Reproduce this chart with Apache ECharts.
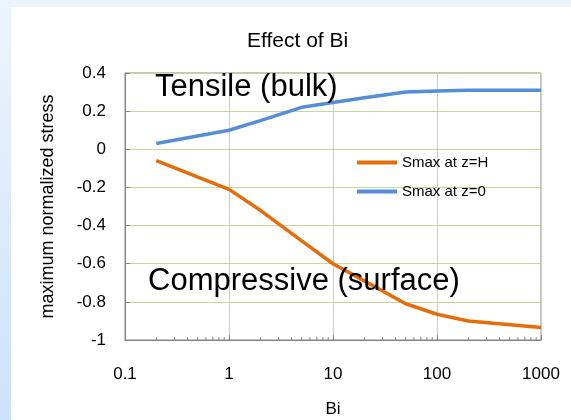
<!DOCTYPE html>
<html>
<head>
<meta charset="utf-8">
<script src="https://cdn.jsdelivr.net/npm/echarts@6/dist/echarts.min.js"></script>
<style>
  html, body { margin: 0; padding: 0; }
  body { width: 571px; height: 420px; background: linear-gradient(to bottom, #ecf4fd, #cde2fb); position: relative; overflow: hidden; }
  #panel { position: absolute; left: 11px; top: 7px; right: 0; bottom: 0; background: #fff; }
  #chart { position: absolute; left: 0; top: 0; width: 571px; height: 420px; }
</style>
</head>
<body>
<div id="panel"></div>
<div id="chart"></div>
<script>
// ---- data ----
const titleText = 'Effect of Bi';
const xAxisName = 'Bi';
const yAxisName = 'maximum normalized stress';
const biValues = [0.2, 1, 2, 5, 10, 20, 50, 100, 200, 1000];
const seriesNames = ['Smax at z=H', 'Smax at z=0'];
const smaxSurface = [-0.06, -0.21, -0.32, -0.48, -0.60, -0.69, -0.81, -0.865, -0.90, -0.935];
const smaxBulk = [0.03, 0.10, 0.15, 0.22, 0.245, 0.27, 0.30, 0.305, 0.31, 0.31];
const minorTickValues = [0.2,0.3,0.4,0.5,0.6,0.7,0.8,0.9, 2,3,4,5,6,7,8,9, 20,30,40,50,60,70,80,90, 200,300,400,500,600,700,800,900];
const annotations = ['Tensile (bulk)', 'Compressive (surface)'];

const FONT = '"Liberation Sans", Arial, sans-serif';
const chart = echarts.init(document.getElementById('chart'), null, { renderer: 'canvas' });

const pair = (xs, ys) => xs.map((x, i) => [x, ys[i]]);

chart.setOption({
  backgroundColor: 'transparent',
  animation: false,
  title: {
    text: titleText, left: 242, top: 26,
    textStyle: { fontFamily: FONT, fontSize: 21, fontWeight: 'normal', color: '#000' }
  },
  grid: {
    left: 125, right: 30, top: 73, bottom: 80, containLabel: false, outerBoundsMode: 'none',
    show: true, borderColor: '#868686', borderWidth: 1, backgroundColor: '#fff'
  },
  legend: {
    orient: 'vertical', left: 352, top: 150, itemWidth: 40, itemHeight: 4, itemGap: 14,
    icon: 'rect',
    data: seriesNames,
    textStyle: { fontFamily: FONT, fontSize: 15, color: '#000' }
  },
  xAxis: {
    type: 'log', logBase: 10, min: 0.1, max: 1000,
    name: xAxisName, nameLocation: 'middle', nameGap: 61,
    nameTextStyle: { fontFamily: FONT, fontSize: 17, color: '#000' },
    axisLine: { onZero: false, lineStyle: { color: '#868686', width: 1 } },
    axisTick: { show: true, inside: true, length: 5, lineStyle: { color: '#868686' } },
    axisLabel: { fontFamily: FONT, fontSize: 17, color: '#000', margin: 26, formatter: v => String(v) },
    splitLine: { show: true, lineStyle: { color: '#c4d89e', width: 1 } },
    minorTick: { show: false }, minorSplitLine: { show: false }
  },
  yAxis: {
    type: 'value', min: -1, max: 0.4, interval: 0.2,
    name: yAxisName, nameLocation: 'middle', nameGap: 68, nameRotate: 90,
    nameTextStyle: { fontFamily: FONT, fontSize: 18, color: '#000' },
    axisLine: { show: true, lineStyle: { color: '#868686', width: 1 } },
    axisTick: { show: true, inside: true, length: 5, lineStyle: { color: '#868686' } },
    axisLabel: { fontFamily: FONT, fontSize: 17, color: '#000', margin: 19 },
    splitLine: { show: true, lineStyle: { color: '#c4d89e', width: 1 } }
  },
  series: [
    {
      name: seriesNames[0], type: 'line', data: pair(biValues, smaxSurface),
      showSymbol: false, symbol: 'none', lineStyle: { color: '#e46c0a', width: 3.5 }, itemStyle: { color: '#e46c0a' }, z: 3
    },
    {
      name: seriesNames[1], type: 'line', data: pair(biValues, smaxBulk),
      showSymbol: false, symbol: 'none', lineStyle: { color: '#558ed5', width: 3.5 }, itemStyle: { color: '#558ed5' }, z: 3
    },
    {
      name: 'minorTicks', type: 'custom', silent: true, z: 2,
      data: minorTickValues.map(v => [v, -1]),
      renderItem: function (params, api) {
        const p = api.coord([api.value(0), api.value(1)]);
        return { type: 'line', shape: { x1: p[0], y1: p[1], x2: p[0], y2: p[1] - 3 }, style: { stroke: '#868686', lineWidth: 1 } };
      }
    }
  ],
  graphic: [
    { type: 'text', left: 155, top: 72, style: { text: annotations[0], font: '31px "Liberation Sans", Arial, sans-serif', fill: '#000' }, z: 10 },
    { type: 'text', left: 148, top: 266, style: { text: annotations[1], font: '31px "Liberation Sans", Arial, sans-serif', fill: '#000' }, z: 10 }
  ]
});
</script>
</body>
</html>
